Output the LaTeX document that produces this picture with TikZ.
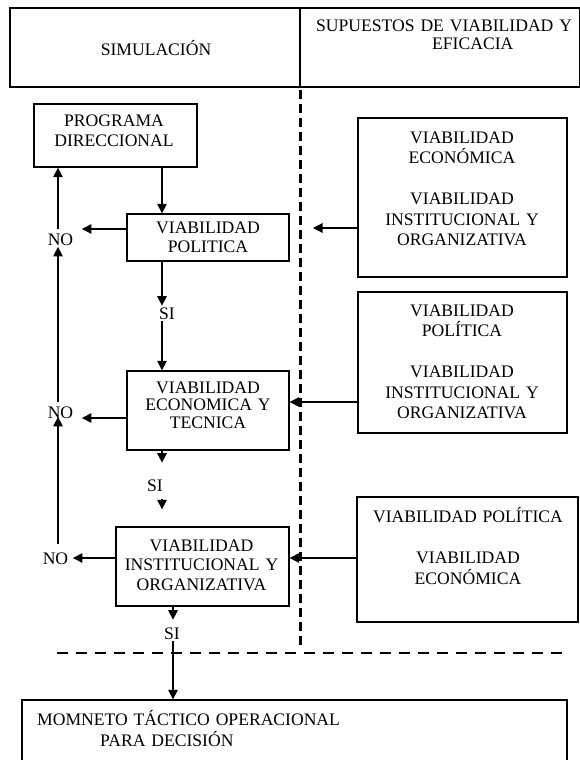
\documentclass[tikz,border=0pt]{standalone}
\usepackage{fontspec}
\setmainfont{Liberation Serif}
\usetikzlibrary{arrows.meta}
\begin{document}
\begin{tikzpicture}[x=1pt,y=-1pt,
  box/.style={draw, line width=1.3pt, inner sep=0pt},
  txt/.style={inner sep=0pt, anchor=base, align=center, text width=215pt},
  lbl/.style={inner sep=1.5pt, anchor=base},
  arr/.style={line width=1.2pt, -{Triangle[length=9.5pt,width=9.5pt]}},
  vsep/.style={line width=3pt, dash pattern=on 9pt off 5pt},
  hsep/.style={line width=2.6pt, dash pattern=on 11pt off 8pt},
  every node/.append style={font=\fontsize{17.6}{20}\selectfont}]
\useasboundingbox[fill=white] (0,0) rectangle (579,760);

% header
\node[box, minimum width=290pt, minimum height=79pt] (sim) at (155,47.5) {};
\node[box, minimum width=280pt, minimum height=79pt] (sup) at (440,47.5) {};
\node[txt] (simt) at (156,56) {SIMULACIÓN};
\node[inner sep=0pt, anchor=base west, align=left, text width=260pt,
      font=\fontsize{17.6}{17.5}\selectfont] (supt) at (316,32)
      {SUPUESTOS DE VIABILIDAD Y\\\hspace*{116pt}EFICACIA};

% boxes
\node[box, minimum width=163pt, minimum height=63pt] (pd) at (115.5,135.5) {};
\node[box, minimum width=162pt, minimum height=47pt] (vp) at (208,237.5) {};
\node[box, minimum width=162pt, minimum height=79pt] (veyt) at (208,410.5) {};
\node[box, minimum width=173pt, minimum height=79pt] (vio) at (202.5,566.5) {};
\node[box, minimum width=209pt, minimum height=159pt] (r1) at (462.5,197.5) {};
\node[box, minimum width=209pt, minimum height=141pt] (r2) at (462.5,362.5) {};
\node[box, minimum width=221pt, minimum height=125pt] (r3) at (467.5,559.5) {};
\node[box, minimum width=545pt, minimum height=70pt] (bot) at (294.5,735) {};

% texts
\node[txt] (pdt) at (114,126) {PROGRAMA\\DIRECCIONAL};
\node[txt, font=\fontsize{17.6}{19}\selectfont] (vpt) at (208,233) {VIABILIDAD\\POLITICA};
\node[txt, font=\fontsize{17.6}{17.5}\selectfont] (veytt) at (208,393) {VIABILIDAD\\ECONOMICA Y\\TECNICA};
\node[txt, font=\fontsize{17.6}{19.5}\selectfont] (viot) at (201.5,551) {VIABILIDAD\\INSTITUCIONAL Y\\ORGANIZATIVA};
\node[txt, font=\fontsize{17.6}{20.5}\selectfont] (r1t) at (462,143) {VIABILIDAD\\ECONÓMICA\\[20.5pt]VIABILIDAD\\INSTITUCIONAL Y\\ORGANIZATIVA};
\node[txt, font=\fontsize{17.6}{20.5}\selectfont] (r2t) at (462,316) {VIABILIDAD\\POLÍTICA\\[20.5pt]VIABILIDAD\\INSTITUCIONAL Y\\ORGANIZATIVA};
\node[txt, font=\fontsize{17.6}{21}\selectfont] (r3t) at (468,522) {VIABILIDAD POLÍTICA\\[20.5pt]VIABILIDAD\\ECONÓMICA};
\node[inner sep=0pt, anchor=base west, align=left, text width=400pt,
      font=\fontsize{17.6}{21}\selectfont] (bott) at (37,725)
      {MOMNETO TÁCTICO OPERACIONAL\\\hspace*{63pt}PARA DECISIÓN};

% labels
\node[lbl] (si1) at (167,319) {SI};
\node[lbl] (si2) at (155,491) {SI};
\node[lbl] (si3) at (172,639) {SI};
\node[lbl] (no1) at (60.5,245) {NO};
\node[lbl] (no2) at (60.5,418) {NO};
\node[lbl] (no3) at (55.5,564) {NO};

% helper coordinates
\coordinate (xa) at (162,0);
\coordinate (xb) at (173,0);
\coordinate (xl) at (58,0);
\coordinate (xd) at (313,0);

% separators
\draw[vsep] (300,90) -- (300,645);
\draw[hsep] (57,653) -- (567,653);

% main flow
\draw[arr] (pd.south -| xa) -- (vp.north -| xa);
\draw[arr] (vp.south -| xa) -- (si1.north -| xa);
\draw[arr] (si1.south -| xa) -- (veyt.north -| xa);
\draw[arr, shorten >=15pt] (veyt.south -| xa) -- (si2.north -| xa);
\draw[arr, shorten <=6pt, shorten >=17pt] (si2.south -| xa) -- (vio.north -| xa);
\draw[arr, shorten >=6pt] (vio.south -| xb) -- (si3.north -| xb);
\draw[arr] (si3.south -| xb) -- (bot.north -| xb);

% NO branches
\coordinate (a1) at ([yshift=8.5pt]vp.west);
\draw[arr, shorten >=7pt] (a1) -- (a1 -| no1.east);
\coordinate (a2) at ([yshift=-7.5pt]veyt.west);
\draw[arr, shorten >=7pt] (a2) -- (a2 -| no2.east);
\coordinate (a3) at ([yshift=8.5pt]vio.west);
\draw[arr, shorten >=3pt] (a3) -- (a3 -| no3.east);

\draw[arr, shorten <=3pt] (no1.north -| xl) -- (pd.south -| xl);
\draw[arr, shorten <=3pt] (no2.north -| xl) -- (no1.south -| xl);
\draw[arr, shorten <=7pt, shorten >=-3pt] (no3.north -| xl) -- (no2.south -| xl);

% inputs from the right
\coordinate (b1) at ([yshift=-30.5pt]r1.west);
\draw[arr] (b1) -- (b1 -| xd);
\coordinate (b2) at ([yshift=-39.5pt]r2.west);
\draw[arr] (b2) -- (b2 -| veyt.east);
\coordinate (b3) at ([yshift=1.5pt]r3.west);
\draw[arr] (b3) -- (b3 -| vio.east);
\end{tikzpicture}
\end{document}
